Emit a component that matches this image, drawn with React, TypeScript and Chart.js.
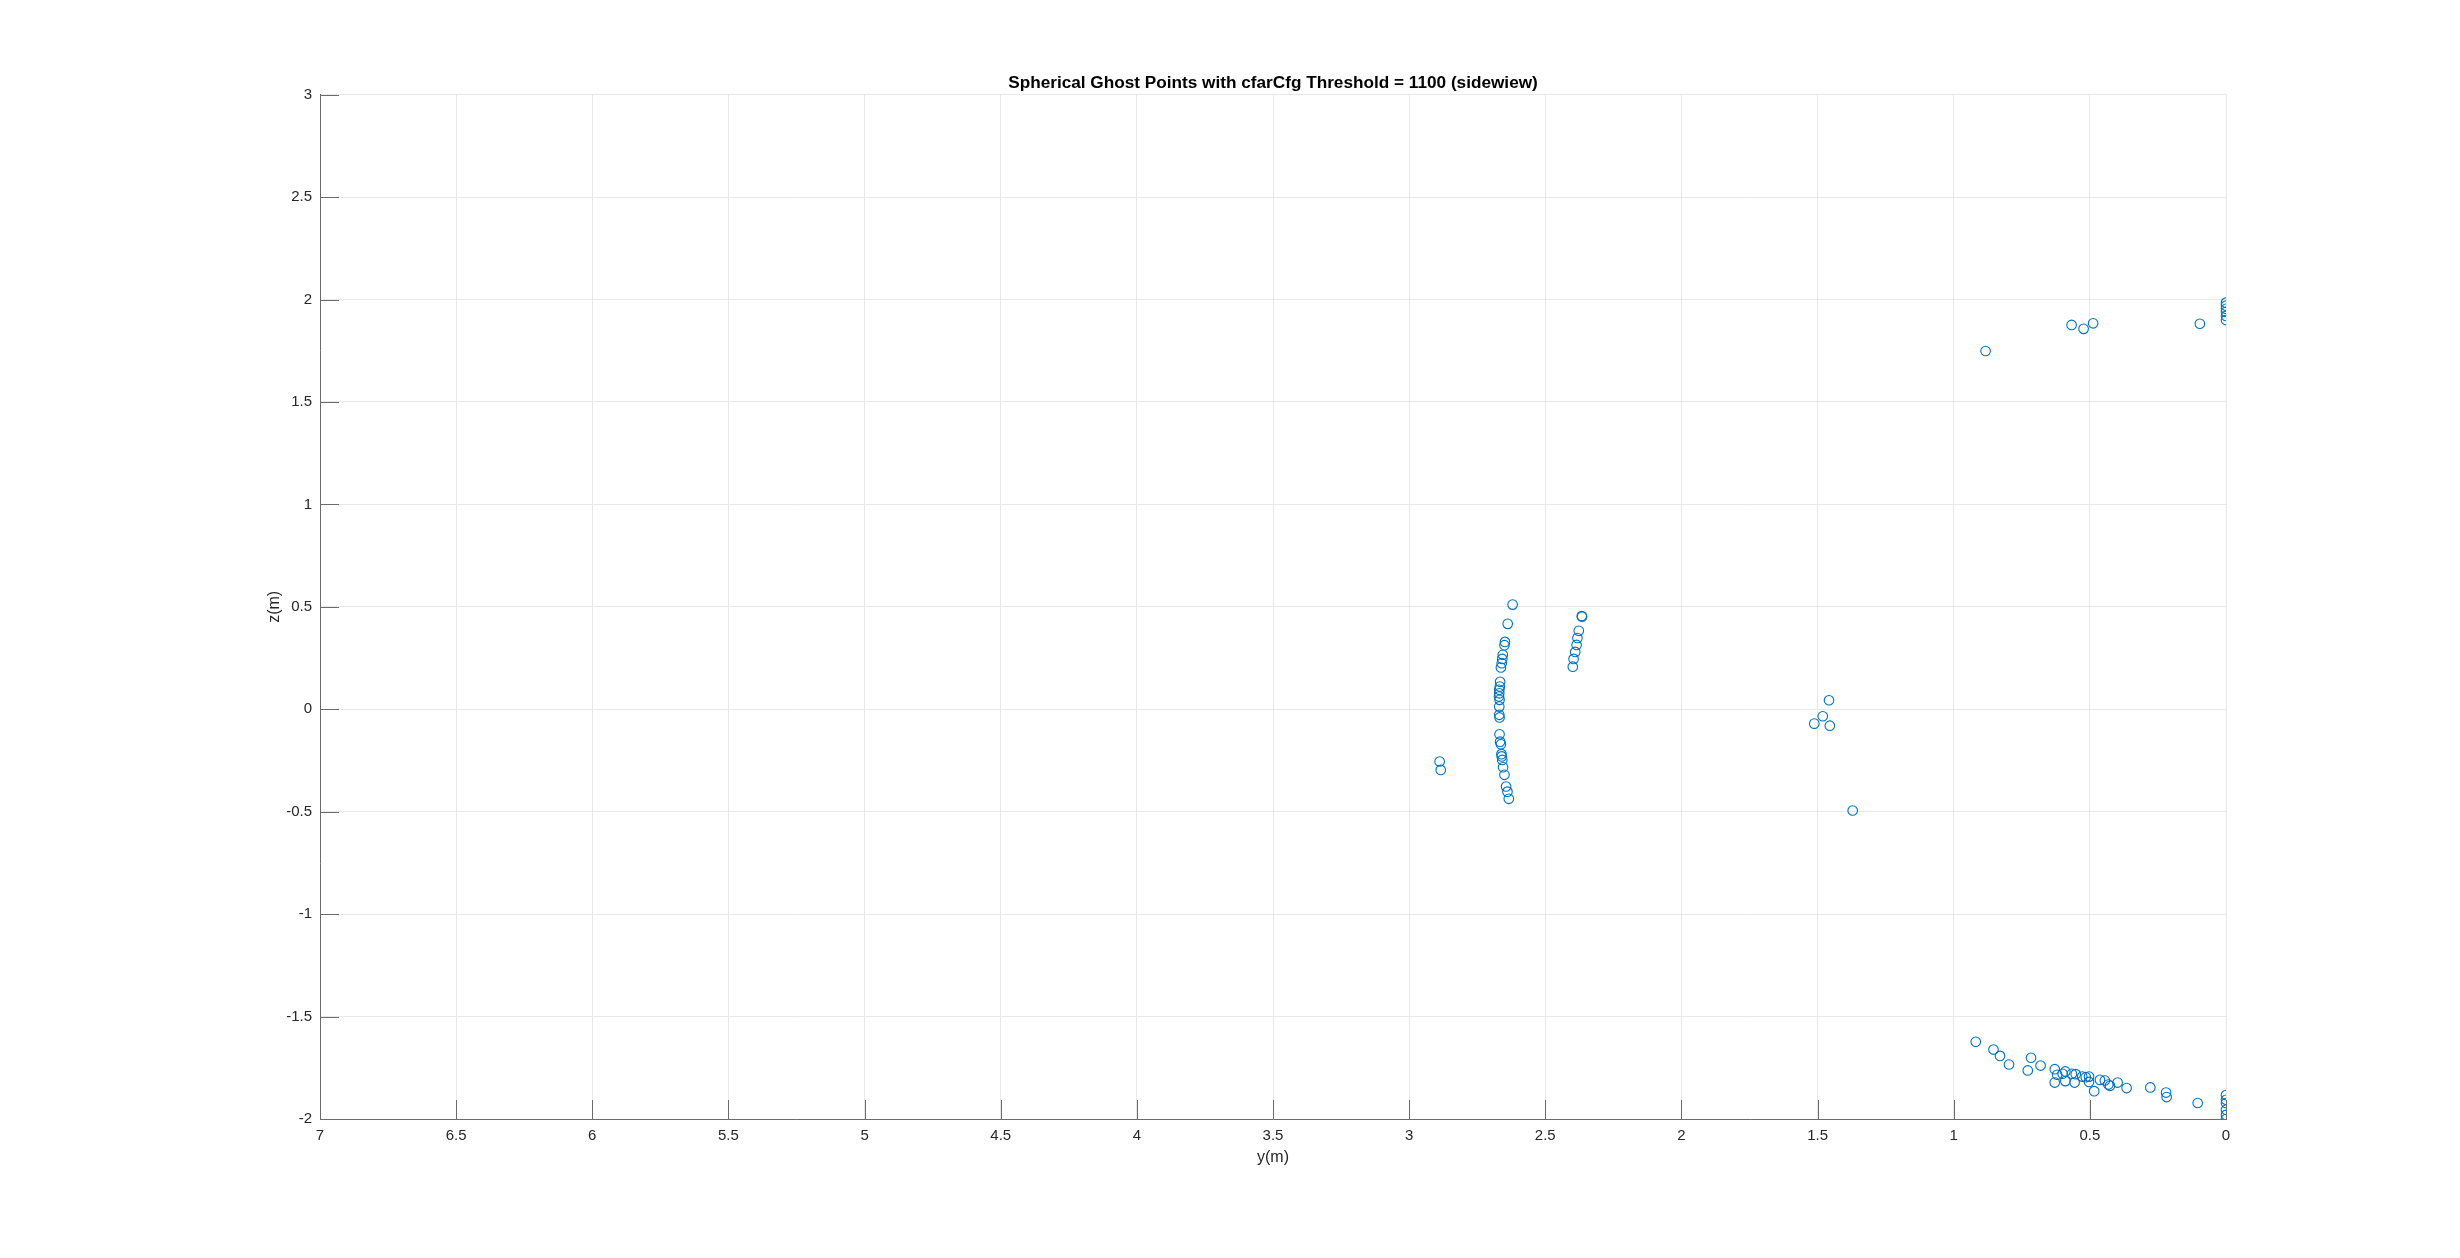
import React, { useEffect, useRef } from "react";
import { Chart, registerables } from "chart.js";

Chart.register(...registerables);

const titleText = "Spherical Ghost Points with cfarCfg Threshold = 1100 (sidewiew)";
const xLabel = "y(m)";
const yLabel = "z(m)";

// Horizontal axis: y (m), drawn reversed 7 -> 0
const yValues: number[] = [
  // vertical cluster near y=2.65
  2.620, 2.638, 2.648, 2.650, 2.656, 2.658, 2.660, 2.663, 2.666, 2.667, 2.669, 2.669, 2.670, 2.668,
  2.669, 2.669, 2.668, 2.668, 2.666, 2.663, 2.661, 2.660, 2.658, 2.655, 2.650, 2.644, 2.639, 2.634,
  // cluster near y=2.38
  2.365, 2.366, 2.377, 2.382, 2.385, 2.390, 2.396, 2.399,
  // pair near y=2.89
  2.888, 2.884,
  // middle group
  1.458, 1.481, 1.512, 1.455, 1.371,
  // top group
  0.883, 0.567, 0.523, 0.488, 0.096, 0, 0, 0, 0, 0, 0,
  // bottom group
  0.919, 0.854, 0.830, 0.797, 0.716, 0.728, 0.681, 0.629, 0.629, 0.620, 0.600, 0.590, 0.590, 0.566,
  0.556, 0.552, 0.528, 0.515, 0.503, 0.503, 0.484, 0.463, 0.445, 0.432, 0.426, 0.398, 0.365, 0.278,
  0.220, 0.218, 0.104, 0, 0, 0, 0, 0, 0,
];

// Vertical axis: z (m)
const zValues: number[] = [
  0.511, 0.417, 0.329, 0.313, 0.266, 0.246, 0.225, 0.204, 0.134, 0.111, 0.095, 0.078, 0.062, 0.046,
  0.013, -0.027, -0.040, -0.122, -0.158, -0.171, -0.219, -0.230, -0.247, -0.283, -0.320, -0.377, -0.402, -0.437,
  0.452, 0.455, 0.383, 0.348, 0.314, 0.280, 0.246, 0.208,
  -0.255, -0.296,
  0.044, -0.034, -0.070, -0.080, -0.494,
  1.749, 1.876, 1.857, 1.884, 1.882, 1.985, 1.970, 1.955, 1.940, 1.920, 1.900,
  -1.623, -1.661, -1.692, -1.734, -1.701, -1.763, -1.739, -1.757, -1.822, -1.784, -1.779, -1.768, -1.815, -1.779,
  -1.822, -1.781, -1.793, -1.796, -1.793, -1.819, -1.864, -1.809, -1.812, -1.832, -1.838, -1.822, -1.849, -1.846,
  -1.871, -1.893, -1.922, -1.883, -1.906, -1.922, -1.955, -1.980, -2.0,
];

const xMin = 0;
const xMax = 7;
const yMin = -2;
const yMax = 3;
const tickStep = 0.5;

const FONT = "'Liberation Sans', Arial, Helvetica, sans-serif";
const AXIS_COLOR = "#6b6b6b";
const GRID_COLOR = "#e8e8e8";
const TEXT_COLOR = "#262626";
const MARKER_COLOR = "#0072BD";

const formatTick = (v: any) => String(Math.round(Number(v) * 100) / 100);

const inwardTicks = {
  id: "inwardTicks",
  beforeDatasetsDraw(chart: any) {
    const { ctx, chartArea } = chart;
    const xs = chart.scales.x;
    const ys = chart.scales.y;
    const len = 19;
    ctx.save();
    ctx.strokeStyle = AXIS_COLOR;
    ctx.lineWidth = 1;
    ctx.beginPath();
    xs.ticks.forEach((t: any) => {
      const px = Math.round(xs.getPixelForValue(t.value)) + 0.5;
      ctx.moveTo(px, chartArea.bottom);
      ctx.lineTo(px, chartArea.bottom - len);
    });
    ys.ticks.forEach((t: any) => {
      const py = Math.round(ys.getPixelForValue(t.value)) + 0.5;
      ctx.moveTo(chartArea.left, py);
      ctx.lineTo(chartArea.left + len, py);
    });
    ctx.stroke();
    ctx.restore();
  },
};

// Title centred over the axes box (as MATLAB does), not over the whole canvas
const axesTitle = {
  id: "axesTitle",
  afterDraw(chart: any) {
    const { ctx, chartArea } = chart;
    ctx.save();
    ctx.fillStyle = "#000000";
    ctx.font = `bold 17.2px ${FONT}`;
    ctx.textAlign = "center";
    ctx.textBaseline = "middle";
    ctx.fillText(titleText, (chartArea.left + chartArea.right) / 2, chartArea.top - 11.5);
    ctx.restore();
  },
};

export default function App() {
  const canvasRef = useRef<HTMLCanvasElement | null>(null);

  useEffect(() => {
    if (!canvasRef.current) return;
    const points = yValues.map((v, i) => ({ x: v, y: zValues[i] }));
    const chart = new Chart(canvasRef.current, {
      type: "scatter",
      data: {
        datasets: [
          {
            data: points,
            pointStyle: "circle",
            pointRadius: 4.8,
            pointBorderWidth: 1.1,
            pointBackgroundColor: "rgba(0,0,0,0)",
            pointBorderColor: MARKER_COLOR,
            pointHoverRadius: 4.8,
          },
        ],
      },
      options: {
        responsive: false,
        animation: false,
        devicePixelRatio: 1,
        layout: { padding: { left: 0, right: 234, top: 94.7, bottom: 0 } },
        plugins: {
          legend: { display: false },
          tooltip: { enabled: false },
          title: { display: false },
        },
        scales: {
          x: {
            type: "linear",
            reverse: true,
            min: xMin,
            max: xMax,
            afterFit(scale: any) {
              scale.height = 139;
            },
            ticks: {
              stepSize: tickStep,
              color: TEXT_COLOR,
              font: { family: FONT, size: 15 },
              padding: 8,
              maxRotation: 0,
              autoSkip: false,
              callback: formatTick,
            },
            grid: { color: GRID_COLOR, drawTicks: false, lineWidth: 1 },
            border: { display: true, color: AXIS_COLOR, width: 1 },
            title: {
              display: true,
              text: xLabel,
              color: TEXT_COLOR,
              font: { family: FONT, size: 16 },
              padding: { top: 0, bottom: 90.4 },
            },
          },
          y: {
            type: "linear",
            min: yMin,
            max: yMax,
            afterFit(scale: any) {
              scale.width = 320;
            },
            ticks: {
              stepSize: tickStep,
              color: TEXT_COLOR,
              font: { family: FONT, size: 15 },
              padding: 8,
              autoSkip: false,
              callback: formatTick,
            },
            grid: { color: GRID_COLOR, drawTicks: false, lineWidth: 1 },
            border: { display: true, color: AXIS_COLOR, width: 1 },
            title: {
              display: true,
              text: yLabel,
              color: TEXT_COLOR,
              font: { family: FONT, size: 16 },
              padding: { top: 265.4, bottom: 0 },
            },
          },
        },
      },
      plugins: [inwardTicks, axesTitle],
    });
    return () => chart.destroy();
  }, []);

  return (
    <div style={{ position: "fixed", left: 0, top: 0, width: 2460, height: 1258, background: "#ffffff" }}>
      <canvas ref={canvasRef} width={2460} height={1258} style={{ display: "block" }} />
    </div>
  );
}
